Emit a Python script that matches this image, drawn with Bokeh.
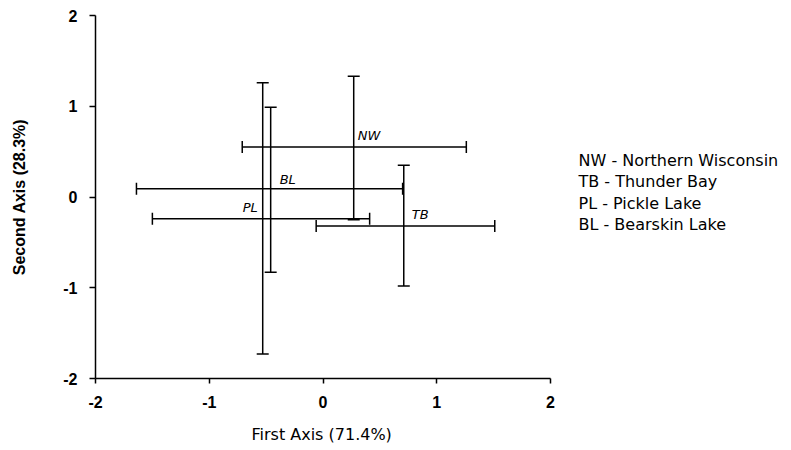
import numpy as np
from bokeh.plotting import figure
from bokeh.models import ColumnDataSource, Range1d, FixedTicker, Title
from bokeh.core.properties import value
from bokeh.embed import file_html
from bokeh.resources import INLINE

# ---- data ----
sites = ["NW", "TB", "PL", "BL"]
x_center = [0.27, 0.71, -0.53, -0.46]
y_center = [0.55, -0.32, -0.24, 0.09]
x_low = [-0.71, -0.06, -1.50, -1.64]
x_high = [1.26, 1.51, 0.41, 0.70]
y_low = [-0.25, -0.98, -1.73, -0.83]
y_high = [1.33, 0.35, 1.26, 0.99]
legend_lines = ["NW - Northern Wisconsin", "TB - Thunder Bay",
                "PL - Pickle Lake", "BL - Bearskin Lake"]
tick_values = [-2, -1, 0, 1, 2]
tick_labels = ["-2", "-1", "0", "1", "2"]
x_title = "First Axis (71.4%)"
y_title = "Second Axis (28.3%)"

# ---- layout ----
FRAME_W, FRAME_H = 688, 363
LEFT, TOP = 95, 15
AXIS_PX = 455.0  # pixel length of the -2..2 x axis
x_end = -2 + 4 * FRAME_W / AXIS_PX

p = figure(frame_width=FRAME_W, frame_height=FRAME_H,
           x_range=Range1d(-2, x_end), y_range=Range1d(-2, 2),
           output_backend="svg", toolbar_location=None,
           min_border_left=LEFT, min_border_top=TOP, min_border_right=0,
           min_border_bottom=0)
p.outline_line_color = None
p.grid.visible = False
p.background_fill_color = "white"
p.border_fill_color = "white"

for ax in (p.xaxis[0], p.yaxis[0]):
    ax.bounds = (-2, 2)
    ax.ticker = FixedTicker(ticks=tick_values)
    ax.major_label_overrides = {v: s for v, s in zip(tick_values, tick_labels)}
    ax.minor_tick_line_color = None
    ax.major_tick_in = 0
    ax.axis_line_color = "black"
    ax.axis_line_width = 1.5
    ax.major_tick_line_color = "black"
    ax.major_tick_line_width = 1.5
    ax.major_label_text_font = "Liberation Sans"
    ax.major_label_text_font_style = "bold"
    ax.major_label_text_font_size = "16px"
    ax.major_label_text_color = "black"
    ax.major_label_standoff = 12

p.xaxis.major_tick_out = 5
p.yaxis.major_tick_out = 6
p.yaxis.axis_label = y_title
p.yaxis.axis_label_text_font = "Liberation Sans"
p.yaxis.axis_label_text_font_style = "bold"
p.yaxis.axis_label_text_font_size = "16px"
p.yaxis.axis_label_standoff = 32
p.yaxis.axis_label_text_color = "black"

# x-axis title centred under the -2..2 axis (the frame is wider, to hold the key)
p.add_layout(Title(text=x_title, align="left", offset=156, standoff=24,
                   text_font="DejaVu Sans", text_font_style="normal",
                   text_font_size="16px", text_color="black"), "below")

src = ColumnDataSource(dict(
    site=sites, xc=x_center, yc=y_center,
    xl=x_low, xh=x_high, yl=y_low, yh=y_high,
    dx=[4, 8, -5, 9], dy=[-4, -4, -4, -2],
    align=["left", "left", "right", "left"],
))

# cross bars
p.segment(x0="xl", y0="yc", x1="xh", y1="yc", source=src, line_color="black", line_width=1.5)
p.segment(x0="xc", y0="yl", x1="xc", y1="yh", source=src, line_color="black", line_width=1.5)
# end caps
p.dash(x="xl", y="yc", size=12, angle=np.pi / 2, source=src, line_color="black", line_width=1.5)
p.dash(x="xh", y="yc", size=12, angle=np.pi / 2, source=src, line_color="black", line_width=1.5)
p.dash(x="xc", y="yl", size=12, source=src, line_color="black", line_width=1.5)
p.dash(x="xc", y="yh", size=12, source=src, line_color="black", line_width=1.5)

# site labels
p.text(x="xc", y="yc", text="site", x_offset="dx", y_offset="dy", text_align="align",
       text_baseline="bottom", source=src, text_font=value("DejaVu Sans"),
       text_font_style="italic", text_font_size="13px", text_color="black")

# key text on the right (pixel layout converted to data units)
px_per_y = FRAME_H / 4.0
lx = -2 + (578 - LEFT) * 4 / AXIS_PX
ly0 = 2 - (160 - TOP) / px_per_y
lstep = 21.3 / px_per_y
p.text(x=[lx] * len(legend_lines), y=[ly0 - i * lstep for i in range(len(legend_lines))],
       text=legend_lines, text_baseline="middle", text_align="left",
       text_font=value("DejaVu Sans"), text_font_size="16px", text_color="black")

open("out.html", "w").write(file_html(p, INLINE))
